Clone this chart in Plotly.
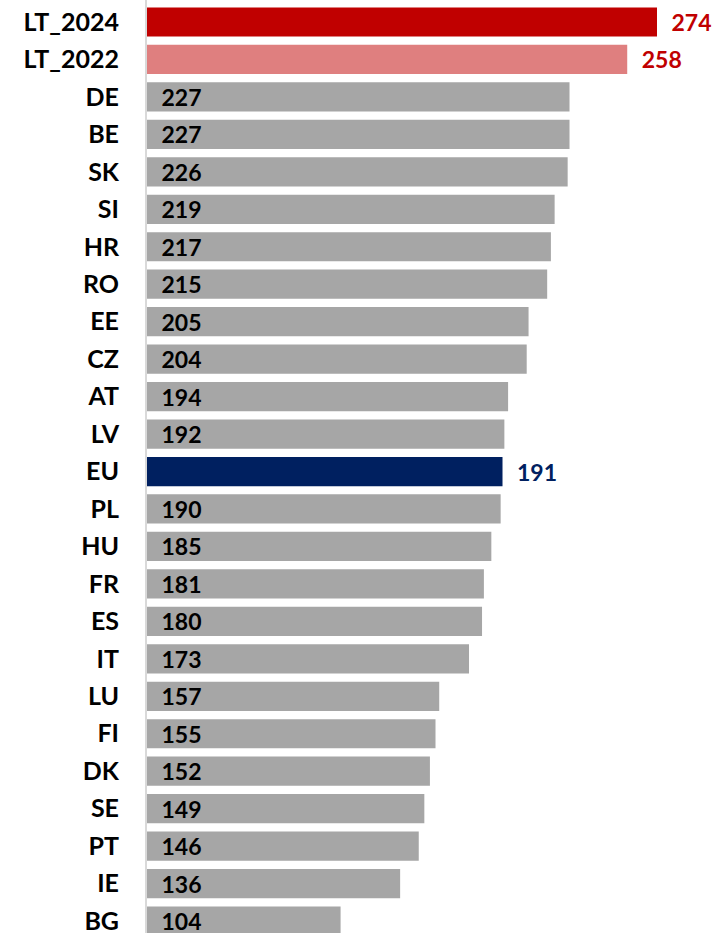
import plotly.graph_objects as go

categories = ["LT_2024", "LT_2022", "DE", "BE", "SK", "SI", "HR", "RO", "EE", "CZ", "AT", "LV", "EU",
              "PL", "HU", "FR", "ES", "IT", "LU", "FI", "DK", "SE", "PT", "IE", "BG"]
values = [274, 258, 227, 227, 226, 219, 217, 215, 205, 204, 194, 192, 191,
          190, 185, 181, 180, 173, 157, 155, 152, 149, 146, 136, 104]

special_colors = {"LT_2024": "#C00000", "LT_2022": "#DF7F7F", "EU": "#002060"}
label_colors = {"LT_2024": "#C00000", "LT_2022": "#C00000", "EU": "#002060"}
GRAY = "#A6A6A6"

bar_colors = [special_colors.get(c, GRAY) for c in categories]
text_pos = ["outside" if c in special_colors else "inside" for c in categories]
text_colors = [label_colors.get(c, "#000000") for c in categories]

FONT = "Lato, 'Open Sans', sans-serif"
PAD = "\u2002"

fig = go.Figure(go.Bar(
    x=values, y=categories, orientation="h",
    marker=dict(color=bar_colors, line=dict(width=0)),
    text=[f"{PAD}<b>{v}</b>" for v in values],
    textposition=text_pos,
    insidetextanchor="start",
    textfont=dict(family=FONT, size=23, color=text_colors),
    outsidetextfont=dict(family=FONT, size=23, color=text_colors),
    insidetextfont=dict(family=FONT, size=23, color=text_colors),
    cliponaxis=False,
    constraintext="none",
))

W, H = 718, 933
left = 147
pitch = 37.46
first_center = 22
top_idx = -first_center / pitch
bot_idx = (H - first_center) / pitch

fig.update_layout(
    width=W, height=H,
    margin=dict(l=left, r=0, t=0, b=0, pad=0),
    paper_bgcolor="white", plot_bgcolor="white",
    bargap=0.22,
    showlegend=False,
    font=dict(family=FONT),
    uniformtext=dict(mode=False),
    xaxis=dict(range=[0, (W - left) / ((657 - 147) / 274)], visible=False,
               fixedrange=True, automargin=False),
    yaxis=dict(
        categoryorder="array", categoryarray=categories,
        range=[bot_idx, top_idx],
        tickmode="array", tickvals=categories,
        ticktext=[f"<b>{c}</b>" for c in categories],
        tickfont=dict(family=FONT, size=25, color="#000000"),
        showline=True, linecolor="#D9D9D9", linewidth=2,
        showgrid=False, zeroline=False, ticks="", ticklabelstandoff=21,
        fixedrange=True, automargin=False,
    ),
)

fig.write_html("out.html", config={"displayModeBar": False},
               post_script="document.body.style.margin='0';document.body.style.overflow='hidden';")
